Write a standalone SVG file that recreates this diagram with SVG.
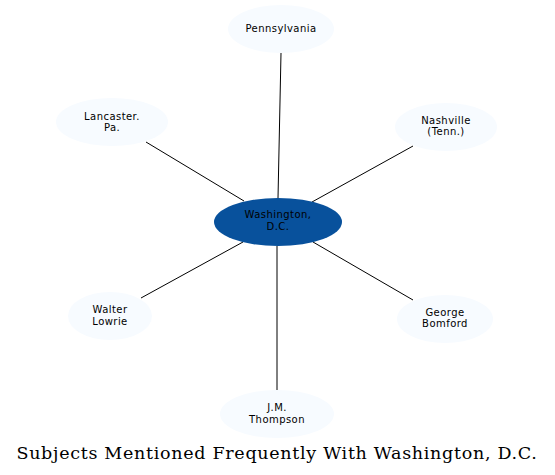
<svg xmlns="http://www.w3.org/2000/svg" width="555" height="475" viewBox="0 0 555 475">
<style>
.n ellipse{fill:#f7fbff;stroke:none}
.n text{font-family:"DejaVu Sans",sans-serif;font-size:10px;letter-spacing:0.45px;text-anchor:middle;fill:#000}
.c line{stroke:#000;stroke-width:1}
.t{font-family:"DejaVu Serif",serif;font-size:17.5px;letter-spacing:0.7px;text-anchor:middle;fill:#000}
</style>
<rect width="555" height="475" fill="#fff"/>
<g class="c" id="connectors">
<line x1="281" y1="53" x2="278" y2="198"/>
<line x1="146" y1="142" x2="244" y2="201"/>
<line x1="413" y1="146" x2="312" y2="202"/>
<line x1="141" y1="298" x2="243" y2="242"/>
<line x1="413" y1="300" x2="313" y2="242"/>
<line x1="277" y1="390" x2="277" y2="246"/>
</g>
<g class="n" id="washington">
<ellipse cx="278" cy="222" rx="64" ry="24" style="fill:#08519c"/>
<text x="278" y="218">Washington,</text>
<text x="278" y="230">D.C.</text>
</g>
<g class="n" id="pennsylvania">
<ellipse cx="281" cy="29" rx="53" ry="24"/>
<text x="281" y="32">Pennsylvania</text>
</g>
<g class="n" id="lancaster">
<ellipse cx="112" cy="122" rx="56" ry="24"/>
<text x="112" y="120">Lancaster.</text>
<text x="112" y="131">Pa.</text>
</g>
<g class="n" id="nashville">
<ellipse cx="446" cy="127" rx="51" ry="24"/>
<text x="446" y="124">Nashville</text>
<text x="446" y="135">(Tenn.)</text>
</g>
<g class="n" id="lowrie">
<ellipse cx="110" cy="316" rx="42" ry="24"/>
<text x="110" y="313">Walter</text>
<text x="110" y="325">Lowrie</text>
</g>
<g class="n" id="bomford">
<ellipse cx="445" cy="319" rx="48" ry="24"/>
<text x="445" y="316">George</text>
<text x="445" y="327">Bomford</text>
</g>
<g class="n" id="thompson">
<ellipse cx="277" cy="414" rx="57" ry="24"/>
<text x="277" y="411">J.M.</text>
<text x="277" y="423">Thompson</text>
</g>
<text class="t" x="277" y="459">Subjects Mentioned Frequently With Washington, D.C.</text>
</svg>
